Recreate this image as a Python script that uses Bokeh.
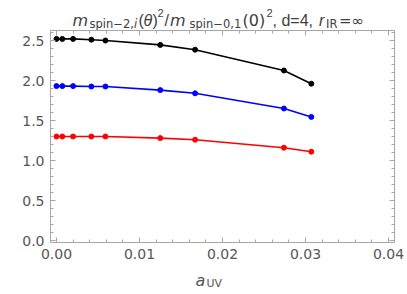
from bokeh.plotting import figure
from bokeh.layouts import column
from bokeh.models import Range1d, LinearAxis, SingleIntervalTicker, NumeralTickFormatter
from bokeh.core.properties import value
from bokeh.embed import file_html
from bokeh.resources import INLINE

# data
a_uv = [0.0, 0.0007, 0.002, 0.0042, 0.0059, 0.0125, 0.0167, 0.0274, 0.0307]
mass_i1 = [1.30, 1.30, 1.30, 1.30, 1.30, 1.28, 1.26, 1.16, 1.11]
mass_i2 = [1.93, 1.93, 1.93, 1.925, 1.925, 1.88, 1.84, 1.65, 1.545]
mass_i3 = [2.52, 2.52, 2.52, 2.51, 2.50, 2.445, 2.385, 2.125, 1.96]
series = [(mass_i3, "#000000"), (mass_i2, "#0000ff"), (mass_i1, "#ff0000")]

W = 407
TITLE_H, MAIN_H, XL_H = 30, 240, 24
FL, FR = 50, 394          # frame left/right (px)
FB = 242 - TITLE_H        # frame bottom within main figure

LIB = "Liberation Sans"
DJV = "DejaVu Sans"
FRAME = "#a6a6a6"
LABC = "#555555"
TITC = "#404040"

p = figure(width=W, height=MAIN_H, output_backend="svg", toolbar_location=None,
           x_range=Range1d(-0.00072, 0.04072), y_range=Range1d(-0.025, 2.625),
           min_border_left=FL, min_border_top=0, min_border_right=W - FR,
           min_border_bottom=MAIN_H - FB)
p.outline_line_color = None
p.grid.visible = False


def style_axis(ax, show_labels):
    ax.axis_line_color = FRAME
    ax.major_tick_line_color = FRAME
    ax.minor_tick_line_color = FRAME
    ax.major_tick_in = 5
    ax.major_tick_out = 0
    ax.minor_tick_in = 3
    ax.minor_tick_out = 0
    ax.major_label_text_font = DJV
    if show_labels:
        ax.major_label_text_color = LABC
        ax.major_label_text_font_size = "14px"
        ax.major_label_standoff = 6
    else:
        ax.major_label_text_color = None
        ax.major_label_text_font_size = "0px"
        ax.major_label_standoff = 0


p.xaxis.ticker = SingleIntervalTicker(interval=0.01, num_minor_ticks=5)
p.yaxis.ticker = SingleIntervalTicker(interval=0.5, num_minor_ticks=5)
p.xaxis.formatter = NumeralTickFormatter(format="0.00")
p.yaxis.formatter = NumeralTickFormatter(format="0.0")
style_axis(p.xaxis[0], True)
style_axis(p.yaxis[0], True)

top = LinearAxis(ticker=SingleIntervalTicker(interval=0.01, num_minor_ticks=5))
right = LinearAxis(ticker=SingleIntervalTicker(interval=0.5, num_minor_ticks=5))
style_axis(top, False)
style_axis(right, False)
p.add_layout(top, "above")
p.add_layout(right, "right")

for ys, c in series:
    p.line(a_uv, ys, line_color=c, line_width=1.6)
    p.scatter(a_uv, ys, size=5, fill_color=c, line_color=c)


def text_fig(h, y0):
    # frame spans the same columns as the main plot frame; x range in page px
    f = figure(width=W, height=h, output_backend="svg", toolbar_location=None,
               x_range=Range1d(FL, FR), y_range=Range1d(y0 + h, y0),
               x_axis_type=None, y_axis_type=None,
               min_border_left=FL, min_border_right=W - FR,
               min_border_top=0, min_border_bottom=0)
    f.outline_line_color = None
    f.grid.visible = False
    return f


def put(f, text, px, py, size, font=LIB, italic=False, color=TITC):
    f.text(x=[px], y=[py], text=[text], text_font=value(font),
           text_font_size=value(size),
           text_font_style="italic" if italic else "normal",
           text_color=color, text_align="left", text_baseline="alphabetic")


tf = text_fig(TITLE_H, 0)
base, subb, supb = 20, 23, 12
put(tf, "m", 72, base, "16px", DJV, True)
put(tf, "spin\u22122,", 89, subb, "11.5px", DJV)
put(tf, "i", 133.5, subb, "11.5px", DJV, True)
put(tf, "(", 138, base, "16px")
put(tf, "\u03b8", 143, base, "16px", LIB, True)
put(tf, ")", 152, base, "16px")
put(tf, "2", 157, supb, "11px")
put(tf, "/", 164, base, "16px")
put(tf, "m", 169.5, base, "16px", DJV, True)
put(tf, "spin\u22120,1", 189, subb, "11.5px", DJV)
put(tf, "(0)", 242, base, "16px", DJV)
put(tf, "2", 266, supb, "11px")
put(tf, ", d=4, ", 272, base, "16px")
put(tf, "r", 318.5, base, "16px", LIB, True)
put(tf, "IR", 325.5, subb, "11.5px", DJV)
put(tf, "=\u221e", 338.5, base, "15px", DJV)

xf = text_fig(XL_H, TITLE_H + MAIN_H)
put(xf, "a", 195, 280, "16px", DJV, True, LABC)
put(xf, "UV", 206, 283, "11px", DJV, False, LABC)

layout = column(tf, p, xf, spacing=0)
open("out.html", "w").write(file_html(layout, INLINE))
